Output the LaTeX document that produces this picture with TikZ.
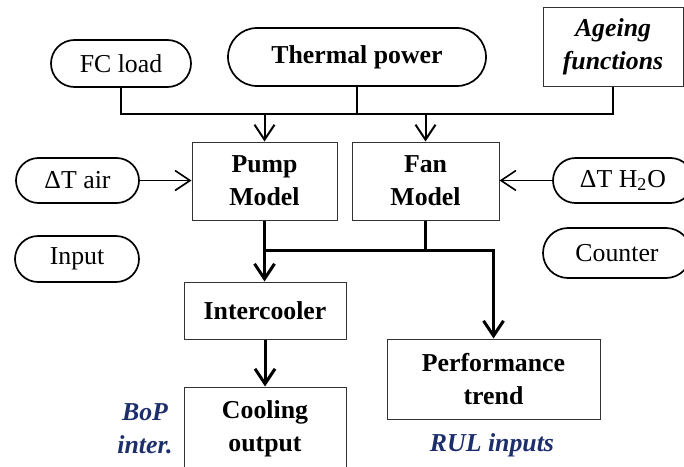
\documentclass[tikz,border=0pt]{standalone}
\usepackage{fontspec}
\setmainfont{Liberation Serif}
\usepackage{tikz}
\usetikzlibrary{positioning, arrows.meta, shapes.misc}
\definecolor{bopblue}{RGB}{28,46,108}
\tikzset{
    pill/.style = {rounded rectangle, draw, line width=0.85pt, inner sep=0pt, font=\fontsize{12.9}{16.5}\selectfont},
    line/.style = {draw, line width=1pt},
    flow/.style = {draw, line width=1.5pt},
}

\begin{document}
\begin{tikzpicture}[
        x=0.5pt, y=-0.5pt,
        block/.style={
            rectangle,
            draw=black!80,
            line width=0.5pt,
            inner sep=0pt,
            align=center,
            font=\bfseries\fontsize{12.9}{16.5}\selectfont
        },
        note/.style={
            text=bopblue,
            align=center,
            font=\bfseries\itshape\fontsize{12.9}{16.5}\selectfont
        },
        arrow/.style={
            -{Straight Barb[length=7.5pt, width=10pt]}
        }
    ]
        \useasboundingbox (0,0) rectangle (684,466);
        \clip (0,0) rectangle (684,466);

        \node [pill, minimum width=70pt, minimum height=23.5pt] (fcload) at (121,63.5) {FC load};
        \node [pill, minimum width=129pt, minimum height=29pt, font=\bfseries\fontsize{12.9}{16.5}\selectfont] (thermal) at (357,57) {Thermal power};
        \node [block, font=\bfseries\itshape\fontsize{12.9}{16.5}\selectfont, minimum width=70pt, minimum height=39.5pt] (ageing) at (613,46.5) {Ageing\\functions};

        \node [block, minimum width=72.5pt, minimum height=39pt] (pump) at (264.5,181) {Pump\\Model};
        \node [block, minimum width=73.5pt, minimum height=39pt] (fan) at (425.5,181) {Fan\\Model};
        \node [pill, minimum width=61.5pt, minimum height=22.5pt] (dtair) at (77.5,180.5) {ΔT air};
        \node [pill, minimum width=70pt, minimum height=22.5pt] (dtwater) at (623,180.5) {ΔT H\textsubscript{2}O};
        \node [pill, minimum width=62pt, minimum height=23pt] (input) at (77,259) {Input};
        \node [pill, minimum width=74pt, minimum height=25pt] (counter) at (617,253) {Counter};

        \node [block, minimum width=81pt, minimum height=28.5pt] (cooler) at (265,310.5) {Intercooler};
        \node [block, minimum width=81pt, minimum height=42pt] (cooling) at (265,429) {Cooling\\output};
        \node [block, minimum width=106.5pt, minimum height=40pt] (perf) at (493.5,379) {Performance\\trend};
        \node [note] (bop) at (145,429) {BoP\\inter.};
        \node [note] (rul) at (492,445) {RUL inputs};

        \coordinate (bus) at (0,113.5);
        \coordinate (mid) at (0,250);

        \draw [line] (fcload.south) |- (ageing.south |- bus) -- (ageing.south);
        \draw [line] (thermal.south) -- (thermal.south |- bus);
        \draw [line, arrow] (pump.north |- bus) -- (pump.north);
        \draw [line, arrow] (fan.north |- bus) -- (fan.north);
        \draw [draw, line width=0.8pt, arrow] (dtair.east) -- (pump.west |- dtair.east);
        \draw [draw, line width=0.8pt, arrow] (dtwater.west) -- (fan.east |- dtwater.west);

        \draw [flow, arrow] (pump.south) -- (pump.south |- cooler.north);
        \draw [flow] (fan.south) -- (fan.south |- mid);
        \draw [flow, arrow] (pump.south |- mid) -| (perf.north);
        \draw [flow, arrow] (cooler.south) -- (cooling.north);
    \end{tikzpicture}
\end{document}
